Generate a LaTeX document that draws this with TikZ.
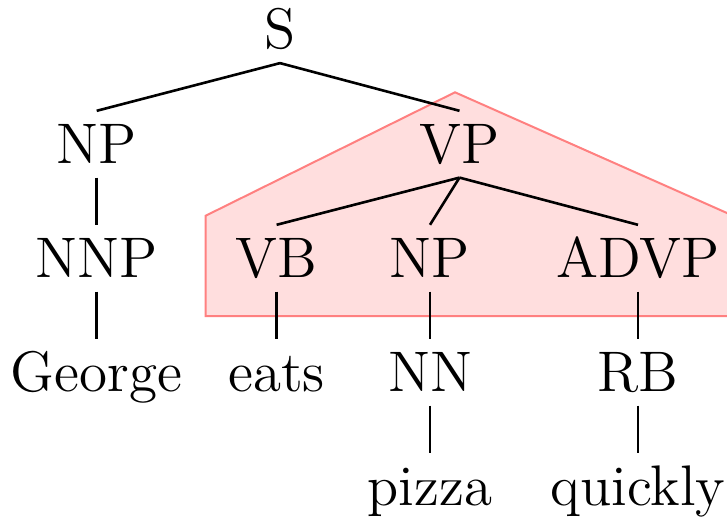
\documentclass[tikz,border=0pt]{standalone}
\begin{document}
\begin{tikzpicture}[x=0.25pt,y=-0.25pt,
  treenode/.style={anchor=base, inner xsep=0pt, inner ysep=3.45pt,
    text height=9.4pt, text depth=0pt, font=\fontsize{14.3}{17}\selectfont},
  edge/.style={line width=0.65pt},
  hull/.style={draw=red!50, fill=red!13, line width=0.5pt}]
\useasboundingbox (0,0) rectangle (727,516);

% highlighted VP subtree region
\begin{scope}
  \clip (0,0) rectangle (727,516);
  \path[hull] (455,92.3) -- (205.7,215.7) -- (205.7,316) -- (745,316)
    -- (745,221) -- cycle;
\end{scope}

% tree nodes (positions are baselines)
\node[treenode] (S)      at (280,48.5) {S};
\node[treenode] (NPa)    at (96.7,163) {NP};
\node[treenode] (VP)     at (459.5,163) {VP};
\node[treenode] (NNP)    at (96.7,277) {NNP};
\node[treenode] (VB)     at (276.6,277) {VB};
\node[treenode] (NPb)    at (430,277) {NP};
\node[treenode] (ADVP)   at (638,277) {ADVP};
\node[treenode] (George) at (96.7,391) {George};
\node[treenode] (eats)   at (276.6,391) {eats};
\node[treenode] (NN)     at (430,391) {NN};
\node[treenode] (RB)     at (638,391) {RB};
\node[treenode] (pizza)  at (430,505) {pizza};
\node[treenode] (quickly) at (638,505) {quickly};

% edges
\draw[edge] (S.south) -- (NPa.north);
\draw[edge] (S.south) -- (VP.north);
\draw[edge] (NPa.south) -- (NNP.north);
\draw[edge] (NNP.south) -- (George.north);
\draw[edge] (VP.south) -- (VB.north);
\draw[edge] (VP.south) -- (NPb.north);
\draw[edge] (VP.south) -- (ADVP.north);
\draw[edge] (VB.south) -- (eats.north);
\draw[edge] (NPb.south) -- (NN.north);
\draw[edge] (NN.south) -- (pizza.north);
\draw[edge] (ADVP.south) -- (RB.north);
\draw[edge] (RB.south) -- (quickly.north);
\end{tikzpicture}
\end{document}
